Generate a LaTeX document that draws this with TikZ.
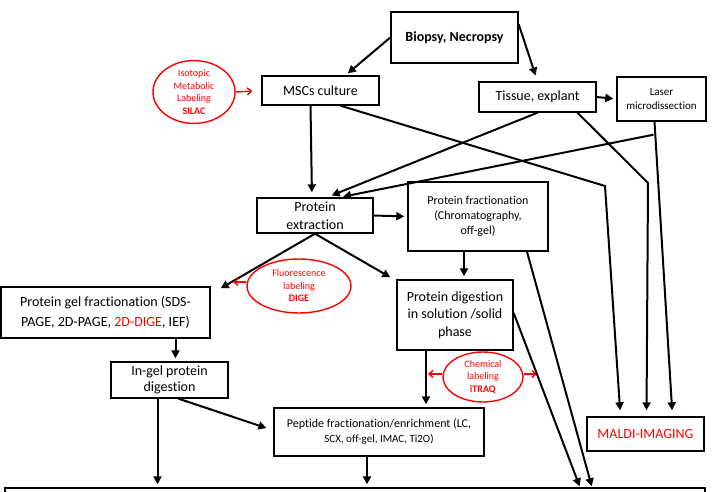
\documentclass[tikz,border=0pt]{standalone}
\usepackage{fontspec}
\setmainfont[Ligatures=CommonOff]{Carlito}
\usepackage{xcolor}
\usetikzlibrary{shapes, arrows.meta, positioning, calc}

\begin{document}
\begin{tikzpicture}[x=1pt, y=1pt,
    box/.style={draw, line width=1.4pt, align=center, inner sep=1pt,
        font=\fontsize{14}{18}\selectfont},
    lab/.style={ellipse, draw=red, line width=1.4pt, text=red, align=center,
        inner sep=0pt, font=\fontsize{10}{12.5}\selectfont},
    arr/.style={line width=2pt, -{Triangle[length=8pt,width=8pt]}, shorten >=3pt},
    redarr/.style={red, line width=1.4pt, -{Straight Barb[length=4pt,width=7pt]}}]
\useasboundingbox (0,0) rectangle (713,491);

% Sources
\node[box, minimum width=127, minimum height=51] (bio) at (454.5,453.5) {\textbf{Biopsy, Necropsy}};
\node[box, minimum width=117, minimum height=29] (msc) at (320.5,400.5) {MSCs culture};
\node[box, minimum width=117, minimum height=30] (tis) at (537.5,394) {Tissue, explant};
\node[box, minimum width=89, minimum height=44, font=\fontsize{11}{14}\selectfont] (laser) at (661.5,392) {Laser\\microdissection};
\node[lab, minimum width=82, minimum height=50] (silac) at (194,399) {Isotopic\\Metabolic\\Labeling\\\textbf{SILAC}};

% Protein level
\node[box, minimum width=116, minimum height=35] (ext) at (315,275.5) {Protein\\extraction};
\node[box, minimum width=140, minimum height=69, font=\fontsize{12}{15}\selectfont] (frac) at (478,274.5) {Protein fractionation\\(Chromatography,\\off-gel)};
\node[lab, minimum width=104, minimum height=54] (dige) at (299,205) {Fluorescence\\labeling\\\textbf{DIGE}};
\node[box, minimum width=209, minimum height=51, font=\fontsize{14}{20}\selectfont] (gel) at (105.5,178.5) {Protein gel fractionation (SDS-\\PAGE, 2D-PAGE, \textcolor{red}{2D-DIGE}, IEF)};
\node[box, minimum width=116, minimum height=70, font=\fontsize{14}{17.5}\selectfont] (dig) at (455,176) {Protein digestion\\in solution /solid\\phase};
\node[lab, minimum width=80, minimum height=50] (itraq) at (483,114) {Chemical\\labeling\\\textbf{iTRAQ}};

% Peptide level
\node[box, minimum width=117, minimum height=36, font=\fontsize{14}{16}\selectfont] (ingel) at (169.5,111) {In-gel protein\\digestion};
\node[box, minimum width=210, minimum height=48, font=\fontsize{12}{15}\selectfont] (pep) at (379,59) {Peptide fractionation/enrichment (LC,\\{\fontsize{11}{15}\selectfont SCX, off-gel, IMAC, Ti2O)}};
\node[box, minimum width=117, minimum height=34] (maldi) at (645.5,57) {\textcolor{red}{MALDI-IMAGING}};
\node[box, minimum width=700, minimum height=16] (out) at (355,-5) {};

% bends and free ends
\coordinate (b1) at (605,305);
\coordinate (b2) at (648,308);
\coordinate (d1) at (233,209);
\coordinate (c1) at (428,117);
\coordinate (c2) at (537,117);

% Arrows
\draw[arr] (bio.west) -- ([xshift=25pt]msc.north);
\draw[arr, shorten >=6pt] ([yshift=-13pt]bio.north east) -- (tis.north);
\draw[redarr, shorten >=9pt] (silac.east) -- (msc.west);
\draw[arr] (tis.east) -- (laser.west);
\draw[arr, shorten >=5pt] ([xshift=-10pt]msc.south) -- ([xshift=-3pt]ext.north);
\draw[arr, shorten >=5pt] (tis.south) -- ([xshift=12pt]ext.north);
\draw[arr, shorten >=3pt] ([xshift=-8pt,yshift=-13pt]laser.south) -- ([xshift=25pt]ext.north);
\draw[arr, shorten >=6pt] ([xshift=20pt]msc.south) -- (b1) -- ([xshift=-25pt]maldi.north);
\draw[arr, shorten >=6pt] ([xshift=40pt]tis.south) -- (b2) -- ([xshift=1pt]maldi.north);
\draw[arr, shorten >=6pt] ([xshift=-7pt]laser.south) -- ([xshift=27pt]maldi.north);

\draw[arr] (ext.east) -- (frac.west);
\draw[arr] ([xshift=-14pt]frac.south) -- ([xshift=9pt]dig.north);
\draw[arr, shorten >=0pt] (ext.south) -- ([xshift=10pt,yshift=-2pt]gel.north east);
\draw[arr, shorten >=0pt] (ext.south) -- ([xshift=-6pt,yshift=2pt]dig.north west);
\draw[redarr] ([yshift=4pt]dige.west) -- (d1);

\draw[arr] ([xshift=70pt]gel.south) -- ([xshift=6pt]ingel.north);
\draw[arr] ([xshift=-12pt]ingel.south) -- ([xshift=-12pt]ingel.south |- out.north);
\draw[arr] ([xshift=9pt]ingel.south) -- ([xshift=-4pt,yshift=3pt]pep.west);
\draw[arr] ([xshift=-29pt]dig.south) -- ([xshift=-29pt]dig.south |- pep.north);
\draw[redarr] ([yshift=3pt]itraq.west) -- (c1);
\draw[redarr] ([yshift=3pt]itraq.east) -- (c2);
\draw[arr] ([xshift=-12pt]pep.south) -- ([xshift=-12pt]pep.south |- out.north);
\draw[arr, shorten >=1pt] ([yshift=2pt]dig.east) -- ([xshift=225pt]out.north);
\draw[arr, shorten >=1pt] ([xshift=49pt]frac.south) -- ([xshift=237pt]out.north);
\end{tikzpicture}
\end{document}
